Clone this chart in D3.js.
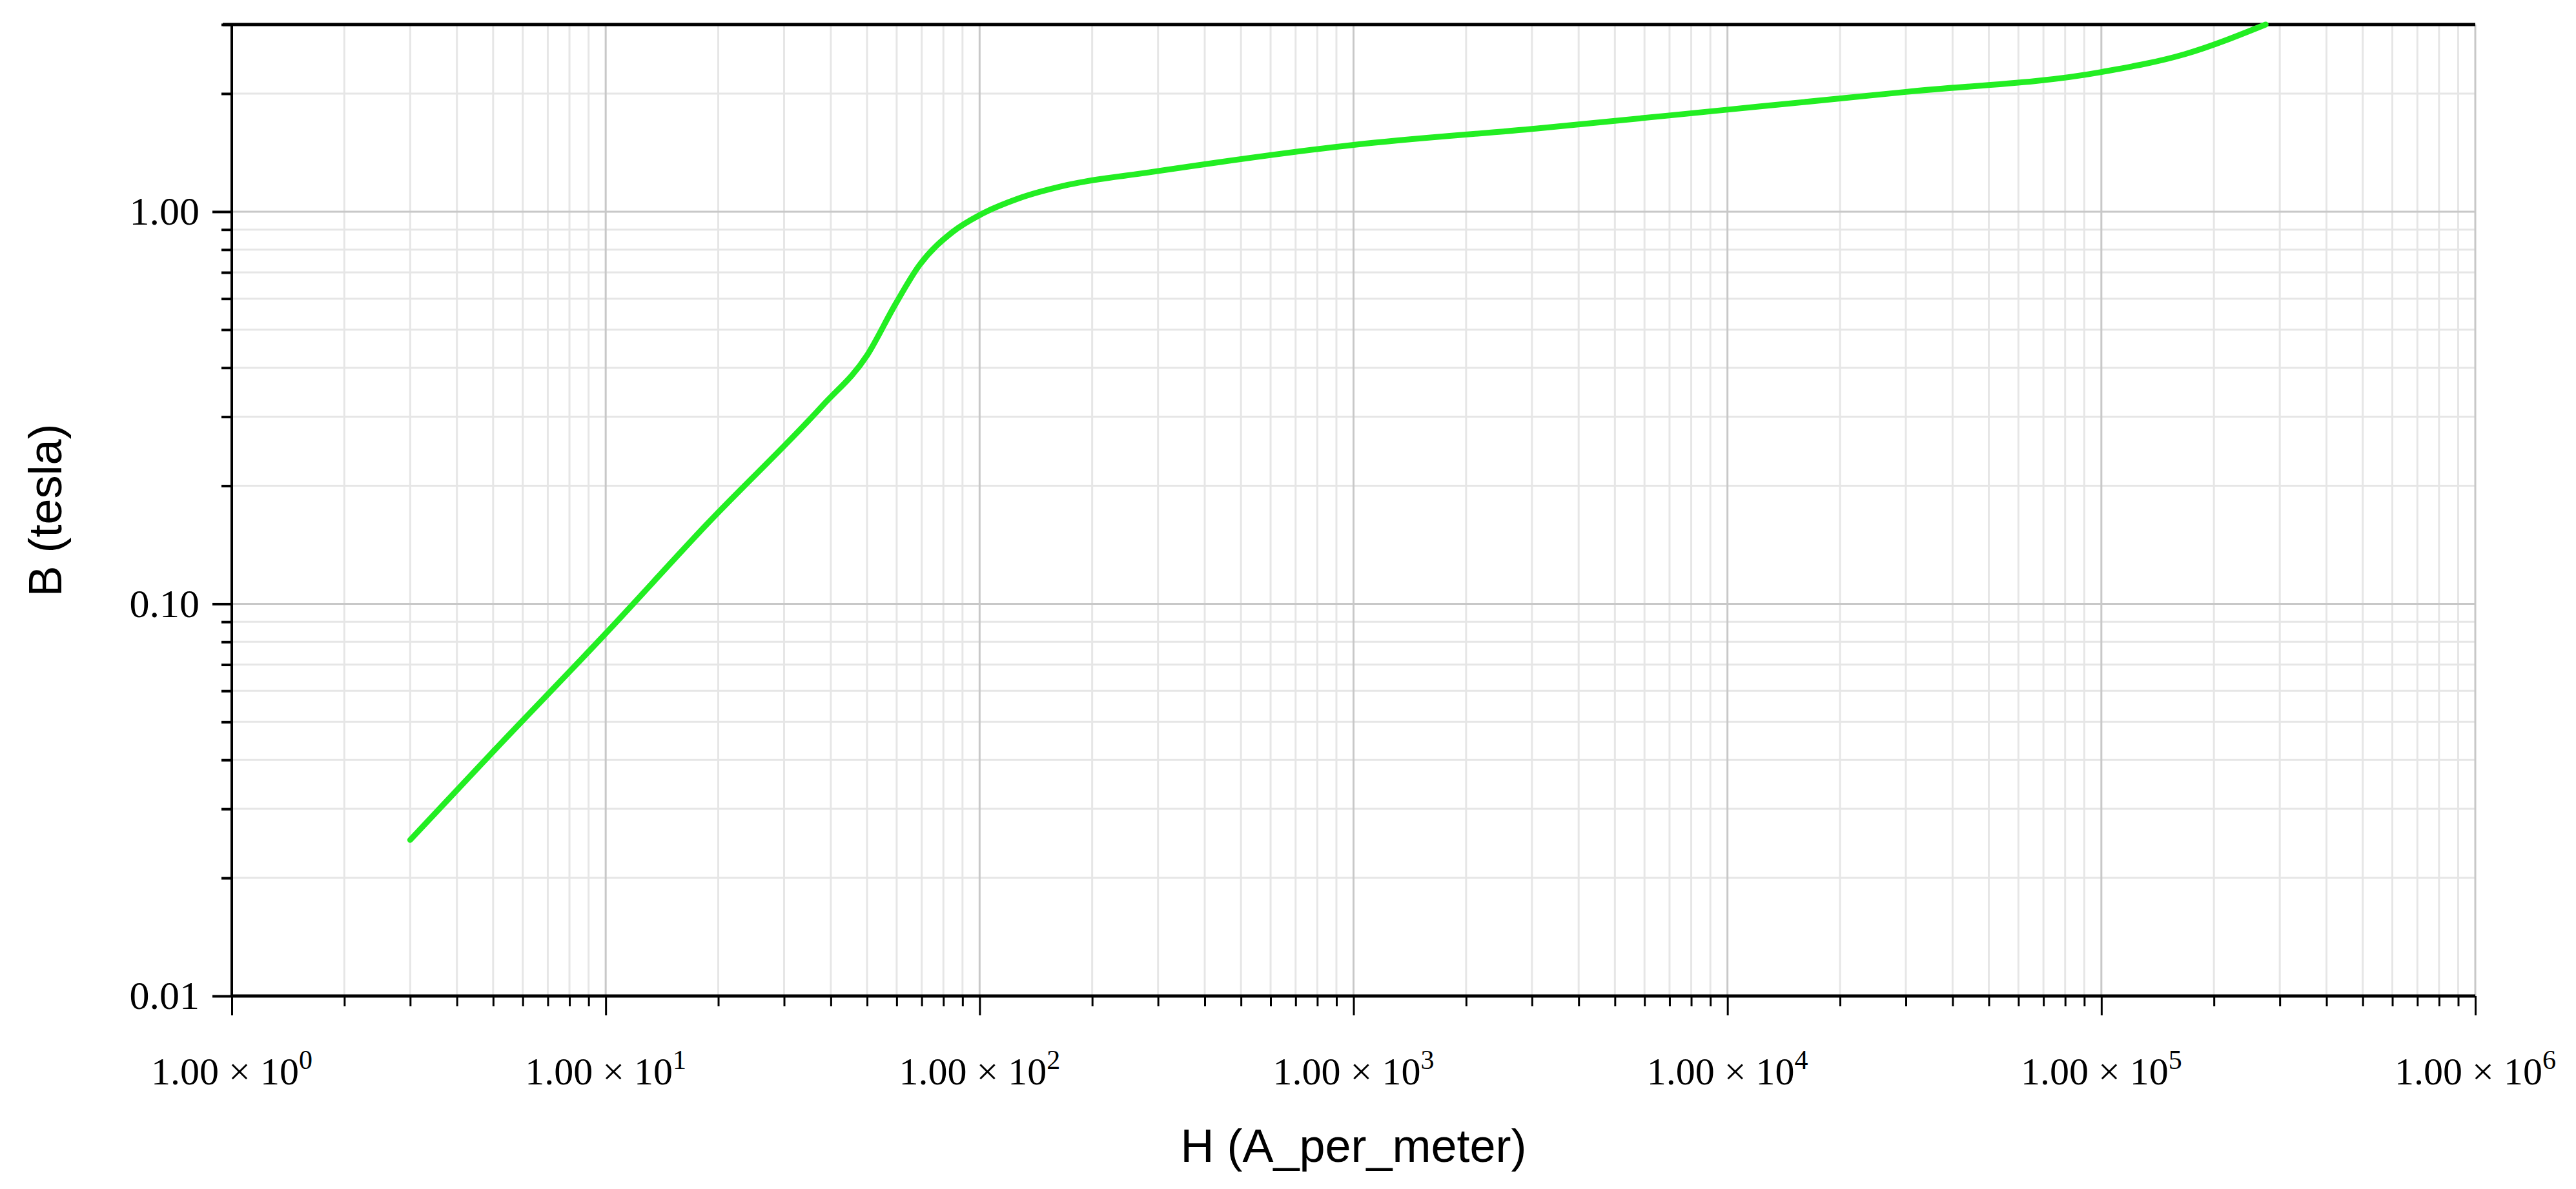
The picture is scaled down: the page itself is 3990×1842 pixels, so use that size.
<!DOCTYPE html>
<html><head><meta charset="utf-8">
<script src="https://cdn.jsdelivr.net/npm/d3@7"></script>
<style>body{margin:0;background:#fff}</style></head>
<body><svg id="c" width="3990" height="1842"></svg>
<script>
const H = [3, 5, 10, 18.7, 38, 50, 59.5, 69, 85, 100, 127, 172, 285, 1000, 3100, 10000, 30000, 100000, 167000, 275000];
const B = [0.025, 0.042, 0.084, 0.16, 0.32, 0.43, 0.58, 0.73, 0.89, 0.98, 1.08, 1.17, 1.26, 1.48, 1.63, 1.82, 2.02, 2.27, 2.52, 3.0];
const xExps = [0, 1, 2, 3, 4, 5, 6];
const yTicks = [0.01, 0.1, 1];
const yLabels = ["0.01", "0.10", "1.00"];

const svg = d3.select("#c");
const L = 359, R = 3834, T = 38, Bm = 1543;
const x = d3.scaleLog().domain([1, 1e6]).range([L, R]);
const y = d3.scaleLog().domain([0.01, 3]).range([Bm, T]);

const minorX = [], minorY = [];
for (let e = 0; e < 6; e++) for (let k = 2; k <= 9; k++) minorX.push(k * Math.pow(10, e));
for (let e = -2; e < 1; e++) for (let k = 2; k <= 9; k++) { const v = k * Math.pow(10, e); if (v <= 3) minorY.push(v); }

const g = svg.append("g");
g.selectAll(".mx").data(minorX).enter().append("line").attr("x1", d => x(d)).attr("x2", d => x(d)).attr("y1", T).attr("y2", Bm).attr("stroke", "#e6e6e6").attr("stroke-width", 3);
g.selectAll(".my").data(minorY).enter().append("line").attr("y1", d => y(d)).attr("y2", d => y(d)).attr("x1", L).attr("x2", R).attr("stroke", "#e6e6e6").attr("stroke-width", 3);
g.selectAll(".Mx").data(xExps).enter().append("line").attr("x1", d => x(Math.pow(10, d))).attr("x2", d => x(Math.pow(10, d))).attr("y1", T).attr("y2", Bm).attr("stroke", "#c8c8c8").attr("stroke-width", 3);
g.selectAll(".My").data(yTicks).enter().append("line").attr("y1", d => y(d)).attr("y2", d => y(d)).attr("x1", L).attr("x2", R).attr("stroke", "#c8c8c8").attr("stroke-width", 3);

const xa = d3.axisBottom(x).tickValues(minorX).tickSize(16).tickFormat("");
svg.append("g").attr("transform", `translate(0,${Bm})`).call(xa).call(s => { s.select(".domain").remove(); s.selectAll("line").attr("stroke", "#000").attr("stroke-width", 3); });
const xaM = d3.axisBottom(x).tickValues(xExps.map(e => Math.pow(10, e))).tickSize(30).tickFormat("");
svg.append("g").attr("transform", `translate(0,${Bm})`).call(xaM).call(s => { s.select(".domain").remove(); s.selectAll("line").attr("stroke", "#000").attr("stroke-width", 3); });
const ya = d3.axisLeft(y).tickValues(minorY).tickSize(16).tickFormat("");
svg.append("g").attr("transform", `translate(${L},0)`).call(ya).call(s => { s.select(".domain").remove(); s.selectAll("line").attr("stroke", "#000").attr("stroke-width", 4); });
const yaM = d3.axisLeft(y).tickValues(yTicks).tickSize(30).tickFormat((d, i) => yLabels[i]);
svg.append("g").attr("transform", `translate(${L},0)`).call(yaM).call(s => {
  s.select(".domain").remove(); s.selectAll("line").attr("stroke", "#000").attr("stroke-width", 4);
  s.selectAll("text").attr("font-family", "Liberation Serif").attr("font-size", 62).attr("fill", "#000").attr("x", -50);
});
svg.append("line").attr("x1", L).attr("x2", L).attr("y1", T).attr("y2", Bm).attr("stroke", "#000").attr("stroke-width", 4);
svg.append("line").attr("x1", L).attr("x2", R).attr("y1", Bm).attr("y2", Bm).attr("stroke", "#000").attr("stroke-width", 5);
svg.append("line").attr("x1", L - 14).attr("x2", R).attr("y1", T).attr("y2", T).attr("stroke", "#000").attr("stroke-width", 5);

const xl = svg.selectAll(".xl").data(xExps).enter().append("text")
  .attr("x", d => x(Math.pow(10, d))).attr("y", 1680).attr("text-anchor", "middle")
  .attr("font-family", "Liberation Serif").attr("font-size", 60).attr("fill", "#000");
xl.append("tspan").text("1.00 × 10");
xl.append("tspan").attr("dy", -24).attr("font-size", 42).text(d => d);

const pts = H.map((h, i) => [h, B[i]]);
svg.append("path").datum(pts).attr("fill", "none").attr("stroke", "#22ee22").attr("stroke-width", 9)
  .attr("stroke-linejoin", "round").attr("stroke-linecap", "round")
  .attr("d", d3.line().x(d => x(d[0])).y(d => y(d[1])).curve(d3.curveMonotoneX));

svg.append("text").attr("x", (L + R) / 2).attr("y", 1800).attr("text-anchor", "middle")
  .attr("font-family", "Liberation Sans").attr("font-size", 72).text("H (A_per_meter)");
svg.append("text").attr("transform", `translate(95,${(T + Bm) / 2}) rotate(-90)`).attr("text-anchor", "middle")
  .attr("font-family", "Liberation Sans").attr("font-size", 72).text("B (tesla)");
</script></body></html>
